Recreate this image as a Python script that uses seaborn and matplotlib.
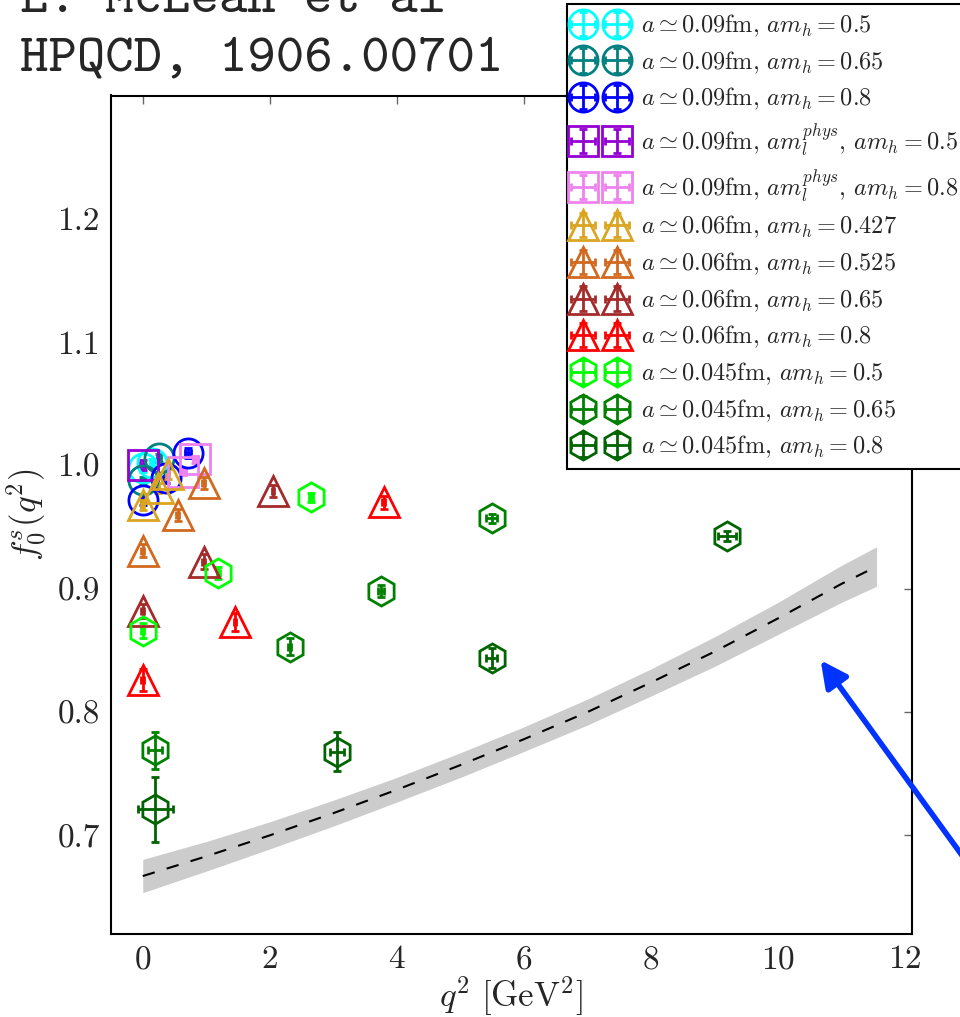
import matplotlib
matplotlib.use("Agg")
import matplotlib.pyplot as plt
import seaborn as sns
import pandas as pd

# lattice points: q^2 [GeV^2], error, f_0^s(q^2), error
cyan_q2, cyan_dq2 = [0.0, 0.15], [0.03, 0.03]
cyan_f0, cyan_df0 = [0.998, 1.002], [0.003, 0.003]

teal_q2, teal_dq2 = [0.0, 0.25], [0.03, 0.03]
teal_f0, teal_df0 = [0.988, 1.006], [0.003, 0.003]

blue_q2, blue_dq2 = [0.0, 0.36, 0.71], [0.03, 0.04, 0.05]
blue_f0, blue_df0 = [0.972, 0.990, 1.010], [0.004, 0.004, 0.004]

purple_q2, purple_dq2 = [0.0], [0.04]
purple_f0, purple_df0 = [1.000], [0.004]

pink_q2, pink_dq2 = [0.64, 0.83], [0.04, 0.04]
pink_f0, pink_df0 = [0.995, 1.005], [0.003, 0.003]

gold_q2, gold_dq2 = [0.0, 0.24, 0.39], [0.02, 0.02, 0.02]
gold_f0, gold_df0 = [0.968, 0.982, 0.993], [0.004, 0.004, 0.004]

choc_q2, choc_dq2 = [0.0, 0.55, 0.96], [0.02, 0.02, 0.02]
choc_f0, choc_df0 = [0.931, 0.960, 0.986], [0.005, 0.005, 0.005]

brown_q2, brown_dq2 = [0.0, 0.96, 2.05], [0.02, 0.02, 0.02]
brown_f0, brown_df0 = [0.882, 0.922, 0.979], [0.006, 0.006, 0.005]

red_q2, red_dq2 = [0.0, 1.45, 3.79], [0.02, 0.02, 0.03]
red_f0, red_df0 = [0.826, 0.873, 0.970], [0.009, 0.007, 0.005]

lime_q2, lime_dq2 = [0.0, 1.19, 2.65], [0.02, 0.02, 0.03]
lime_f0, lime_df0 = [0.866, 0.913, 0.974], [0.006, 0.005, 0.004]

green_q2, green_dq2 = [0.2, 2.31, 3.75, 5.49], [0.11, 0.03, 0.05, 0.08]
green_f0, green_df0 = [0.769, 0.853, 0.898, 0.957], [0.015, 0.007, 0.005, 0.004]

dgreen_q2, dgreen_dq2 = [0.2, 3.06, 5.49, 9.2], [0.27, 0.11, 0.09, 0.14]
dgreen_f0, dgreen_df0 = [0.721, 0.768, 0.844, 0.943], [0.026, 0.016, 0.008, 0.004]

# continuum fit band
band_q2 = [0, 1, 2, 3, 4, 5, 6, 7, 8, 9, 10, 11, 11.55]
band_mid = [0.667, 0.683, 0.700, 0.718, 0.737, 0.757, 0.778, 0.800, 0.824, 0.849, 0.876, 0.904, 0.918]
band_err = [0.0135, 0.012, 0.011, 0.0105, 0.010, 0.010, 0.010, 0.0105, 0.011, 0.012, 0.013, 0.015, 0.016]

labels = [
    r'$a\simeq 0.09\mathrm{fm}$, $am_h=0.5$',
    r'$a\simeq 0.09\mathrm{fm}$, $am_h=0.65$',
    r'$a\simeq 0.09\mathrm{fm}$, $am_h=0.8$',
    r'$a\simeq 0.09\mathrm{fm}$, $am_l^{phys}$, $am_h=0.5$',
    r'$a\simeq 0.09\mathrm{fm}$, $am_l^{phys}$, $am_h=0.8$',
    r'$a\simeq 0.06\mathrm{fm}$, $am_h=0.427$',
    r'$a\simeq 0.06\mathrm{fm}$, $am_h=0.525$',
    r'$a\simeq 0.06\mathrm{fm}$, $am_h=0.65$',
    r'$a\simeq 0.06\mathrm{fm}$, $am_h=0.8$',
    r'$a\simeq 0.045\mathrm{fm}$, $am_h=0.5$',
    r'$a\simeq 0.045\mathrm{fm}$, $am_h=0.65$',
    r'$a\simeq 0.045\mathrm{fm}$, $am_h=0.8$',
]


def main():
    sns.set_style("white")
    plt.rcParams['font.family'] = ['cmr10', 'DejaVu Serif']
    plt.rcParams['mathtext.fontset'] = 'cm'
    plt.rcParams['axes.formatter.use_mathtext'] = True
    plt.rcParams['axes.unicode_minus'] = False

    fig = plt.figure(figsize=(9.6, 10.17), dpi=100)
    ax = fig.add_axes([111 / 960, 1 - 934 / 1017, 800.5 / 960, 838.5 / 1017])

    # fit band + central dashed line
    band = pd.DataFrame({'q2': band_q2, 'mid': band_mid, 'err': band_err})
    ax.fill_between(band['q2'], band['mid'] - band['err'], band['mid'] + band['err'],
                    color='0.8', lw=0, zorder=1)
    sns.lineplot(data=band, x='q2', y='mid', ax=ax, color='k', lw=1.5,
                 dashes=False, zorder=2)
    ax.lines[-1].set_dashes([6, 6])

    groups = [
        (cyan_q2, cyan_dq2, cyan_f0, cyan_df0, 'o', 'cyan'),
        (teal_q2, teal_dq2, teal_f0, teal_df0, 'o', 'teal'),
        (blue_q2, blue_dq2, blue_f0, blue_df0, 'o', 'blue'),
        (purple_q2, purple_dq2, purple_f0, purple_df0, 's', 'darkviolet'),
        (pink_q2, pink_dq2, pink_f0, pink_df0, 's', 'violet'),
        (gold_q2, gold_dq2, gold_f0, gold_df0, '^', 'goldenrod'),
        (choc_q2, choc_dq2, choc_f0, choc_df0, '^', 'chocolate'),
        (brown_q2, brown_dq2, brown_f0, brown_df0, '^', 'brown'),
        (red_q2, red_dq2, red_f0, red_df0, '^', 'red'),
        (lime_q2, lime_dq2, lime_f0, lime_df0, 'h', 'lime'),
        (green_q2, green_dq2, green_f0, green_df0, 'h', 'green'),
        (dgreen_q2, dgreen_dq2, dgreen_f0, dgreen_df0, 'h', 'darkgreen'),
    ]
    for (q, dq, f, df, m, c), lab in zip(groups, labels):
        ax.errorbar(q, f, xerr=dq, yerr=df, fmt=m, color=c, mfc='none', mec=c,
                    ms=21, mew=2, elinewidth=2, capsize=3, capthick=2,
                    label=lab, zorder=3)

    ax.set_xlim(-0.5, 12.1)
    ax.set_ylim(0.62, 1.3)
    ax.set_xticks([0, 2, 4, 6, 8, 10, 12])
    ax.set_yticks([0.7, 0.8, 0.9, 1.0, 1.1, 1.2])
    ax.set_yticklabels(['0.7', '0.8', '0.9', '1.0', '1.1', '1.2'])
    ax.tick_params(direction='in', top=True, right=True, length=6, width=1,
                   color='0.4', labelsize=24, pad=8)
    for s in ax.spines.values():
        s.set_linewidth(1.5)
        s.set_color('k')
    ax.set_xlabel(r'$q^2\ [\mathrm{GeV}^2]$', fontsize=25, labelpad=0)
    ax.set_ylabel(r'$f_0^s(q^2)$', fontsize=25, labelpad=6)

    leg = ax.legend(loc='upper left', bbox_to_anchor=(567 / 960, 1 - 4 / 1017),
                    bbox_transform=fig.transFigure, borderaxespad=0,
                    numpoints=2, handlelength=2.0, handletextpad=0.7,
                    borderpad=0.35, labelspacing=0.42, fontsize=17.5,
                    fancybox=False, framealpha=1, edgecolor='k')
    leg.get_frame().set_linewidth(1.5)
    leg.set_zorder(10)

    # arrow pointing to the fit band
    ax.annotate('', xy=(10.67, 0.842), xytext=(13.3, 0.655),
                arrowprops=dict(arrowstyle='-|>', color='#0033ff', lw=4,
                                mutation_scale=40, shrinkA=0, shrinkB=0),
                annotation_clip=False, zorder=11)

    fig.text(20 / 960, 1 - 12.5 / 1017, 'L. McLean et al', fontfamily='cmtt10',
             fontsize=39, va='baseline', ha='left')
    fig.text(20 / 960, 1 - 71 / 1017, 'HPQCD, 1906.00701', fontfamily='cmtt10',
             fontsize=39, va='baseline', ha='left')

    fig.savefig('out.png', dpi=100)


if __name__ == "__main__":
    main()
